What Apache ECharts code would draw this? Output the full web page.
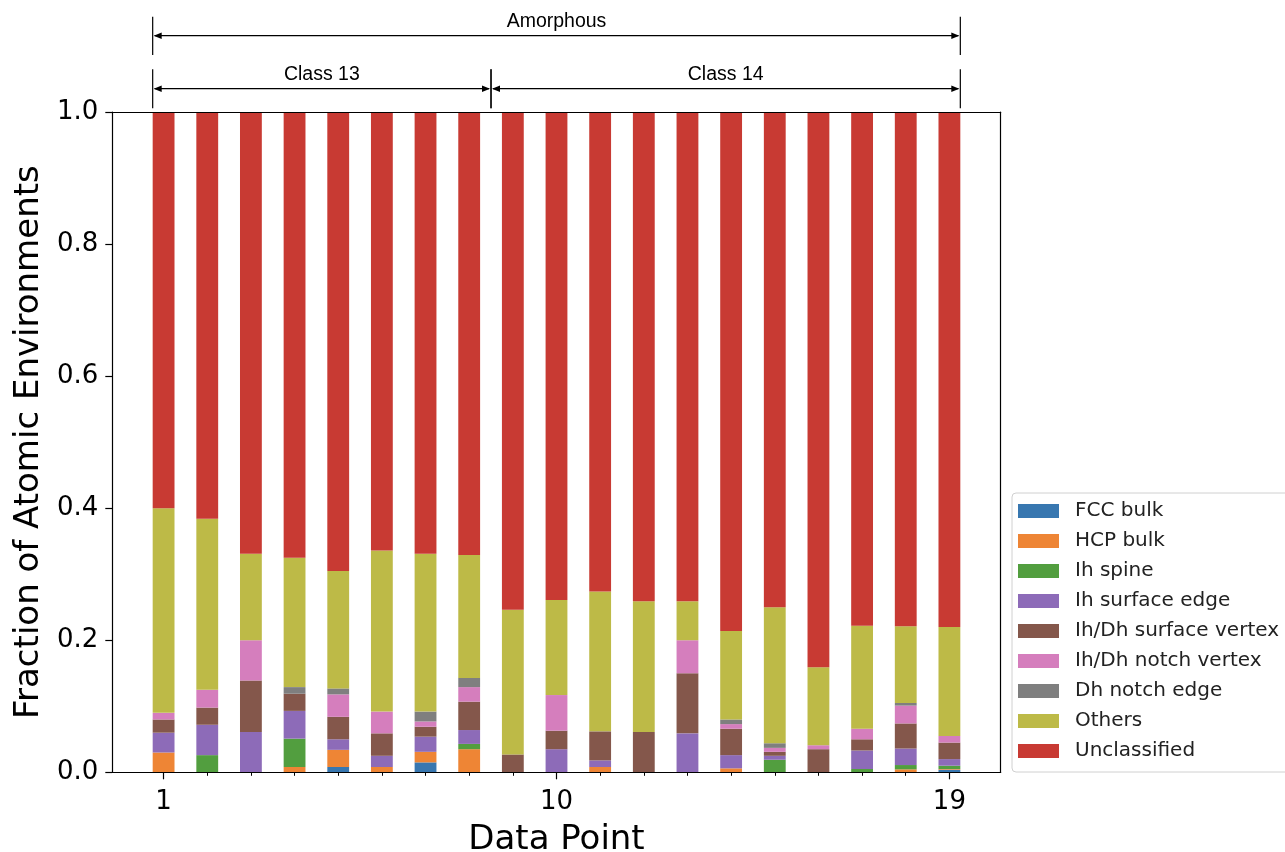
<!DOCTYPE html>
<html>
<head>
<meta charset="utf-8">
<script src="https://cdn.jsdelivr.net/npm/echarts@6/dist/echarts.min.js"></script>
<style>
html,body{margin:0;padding:0;background:#fff;}
#chart{width:1285px;height:852px;}
</style>
</head>
<body>
<div id="chart"></div>
<script>
// ---------- data ----------
const dataPoints = [1,2,3,4,5,6,7,8,9,10,11,12,13,14,15,16,17,18,19];
const xTickLabels = [1, 10, 19];
const seriesNames = ['FCC bulk','HCP bulk','Ih spine','Ih surface edge','Ih/Dh surface vertex','Ih/Dh notch vertex','Dh notch edge','Others','Unclassified'];
const fccBulk      = [0,0,0,0,0.008,0,0.015,0,0,0,0,0,0,0,0,0,0,0,0.004];
const hcpBulk      = [0.030,0,0,0.008,0.026,0.008,0.016,0.035,0,0,0.008,0,0,0.006,0,0,0,0.0045,0.001];
const ihSpine      = [0,0.026,0,0.043,0,0,0,0.008,0,0,0,0,0,0,0.019,0,0.005,0.0065,0.005];
const ihSurfEdge   = [0.030,0.046,0.061,0.042,0.016,0.017,0.023,0.021,0,0.035,0.010,0,0.059,0.020,0.006,0,0.028,0.025,0.010];
const surfVertex   = [0.020,0.026,0.078,0.026,0.034,0.034,0.015,0.043,0.027,0.028,0.044,0.061,0.091,0.040,0.006,0.035,0.017,0.038,0.025];
const notchVertex  = [0.010,0.027,0.061,0,0.034,0.033,0.008,0.022,0,0.054,0,0,0.050,0.007,0.006,0.006,0.016,0.027,0.010];
const notchEdge    = [0,0,0,0.010,0.009,0,0.015,0.014,0,0,0,0,0,0.007,0.007,0,0,0.004,0];
const others       = [0.310,0.259,0.131,0.196,0.178,0.244,0.239,0.186,0.219,0.144,0.212,0.198,0.059,0.134,0.206,0.118,0.156,0.116,0.165];
const unclassified = [0.600,0.616,0.669,0.675,0.695,0.664,0.669,0.671,0.754,0.739,0.726,0.741,0.741,0.786,0.750,0.841,0.778,0.779,0.780];
const allValues = [fccBulk,hcpBulk,ihSpine,ihSurfEdge,surfVertex,notchVertex,notchEdge,others,unclassified];
const colors = ['#3877b0','#ee8535','#529e3f','#8d6bb8','#84574b','#d57ebd','#7f7f7f','#bdba47','#c83a33'];

// ---------- layout ----------
const X_MIN = -0.175, X_MAX = 20.175, BAR_W = 0.5;
const G_LEFT = 112.3, G_RIGHT = 1000.7, G_TOP = 112, G_BOTTOM = 772.3;
const W = 1285, H = 852;
const barPx = BAR_W * (G_RIGHT - G_LEFT) / (X_MAX - X_MIN);
const FONT = 'DejaVu Sans';

const chart = echarts.init(document.getElementById('chart'), null, {renderer:'canvas'});

// data column 0 = fraction (y), column 1 = data point (x) so the stack runs along y
const series = seriesNames.map((name, i) => ({
  name: name,
  type: 'bar',
  stack: 'total',
  xAxisIndex: 0,
  yAxisIndex: 0,
  barWidth: barPx,
  encode: {x: 1, y: 0},
  itemStyle: {color: colors[i]},
  emphasis: {disabled: true},
  data: dataPoints.map((x, j) => [allValues[i][j], x])
}));

const option = {
  animation: false,
  backgroundColor: '#fff',
  grid: {left: G_LEFT, right: W - G_RIGHT, top: G_TOP, bottom: H - G_BOTTOM, containLabel: false, outerBoundsMode: 'none'},
  xAxis: [
    {
      type: 'value', min: X_MIN, max: X_MAX, position: 'bottom', z: 10,
      name: 'Data Point', nameLocation: 'middle', nameGap: 51,
      nameTextStyle: {fontFamily: FONT, fontSize: 34, color: '#000'},
      axisLine: {show: true, onZero: false, lineStyle: {color: '#000', width: 1.2}},
      axisTick: {show: true, length: 7, customValues: xTickLabels, lineStyle: {color: '#000', width: 1.2}},
      axisLabel: {show: true, customValues: xTickLabels, fontFamily: FONT, fontSize: 26, color: '#000', margin: 17},
      splitLine: {show: false}
    },
    {
      type: 'value', min: X_MIN, max: X_MAX, position: 'bottom', z: 10,
      axisLine: {show: false, onZero: false},
      axisTick: {show: true, length: 3.5, customValues: dataPoints, lineStyle: {color: '#000', width: 1}},
      axisLabel: {show: false},
      splitLine: {show: false}
    },
    {
      type: 'value', min: X_MIN, max: X_MAX, position: 'top', z: 10,
      axisLine: {show: true, onZero: false, lineStyle: {color: '#000', width: 1.2}},
      axisTick: {show: false}, axisLabel: {show: false}, splitLine: {show: false}
    }
  ],
  yAxis: [
    {
      type: 'value', min: 0, max: 1, interval: 0.2, position: 'left', z: 10,
      name: 'Fraction of Atomic Environments', nameLocation: 'middle', nameGap: 66,
      nameTextStyle: {fontFamily: FONT, fontSize: 34, color: '#000'},
      axisLine: {show: true, onZero: false, lineStyle: {color: '#000', width: 1.2}},
      axisTick: {show: true, length: 7, lineStyle: {color: '#000', width: 1.2}},
      axisLabel: {fontFamily: FONT, fontSize: 26, color: '#000', margin: 14, formatter: v => v.toFixed(1)},
      splitLine: {show: false}
    },
    {
      type: 'value', min: 0, max: 1, position: 'right', z: 10,
      axisLine: {show: true, onZero: false, lineStyle: {color: '#000', width: 1.2}},
      axisTick: {show: false}, axisLabel: {show: false}, splitLine: {show: false}
    }
  ],
  legend: {
    orient: 'vertical',
    left: 1012, top: 493,
    padding: [8, 40, 11, 6],
    itemWidth: 41, itemHeight: 14, itemGap: 10,
    borderColor: '#d0d0d0', borderWidth: 1, borderRadius: 4,
    backgroundColor: '#fff',
    icon: 'rect',
    textStyle: {fontFamily: FONT, fontSize: 20, color: '#222', lineHeight: 20, padding: [0,0,0,11]},
    data: seriesNames
  },
  series: series
};
chart.setOption(option);

// ---------- annotations (brackets above the plot) ----------
const brackets = [
  {from: 0.75, to: 19.25, y: 35.7, top: 16.7, bottom: 55, label: 'Amorphous', ty: 22},
  {from: 0.75, to: 8.5, y: 88.7, top: 69.3, bottom: 108.3, label: 'Class 13', ty: 74.5},
  {from: 8.5, to: 19.25, y: 88.7, top: 69.3, bottom: 108.3, label: 'Class 14', ty: 74.5}
];
const px = v => chart.convertToPixel({xAxisIndex: 0}, v);
const gfx = [];
const AL = 8, AH = 3.2;
brackets.forEach(b => {
  const x1 = px(b.from), x2 = px(b.to);
  gfx.push({type:'line', shape:{x1:x1, y1:b.top, x2:x1, y2:b.bottom}, style:{stroke:'#000', lineWidth:1.2}, z:20});
  gfx.push({type:'line', shape:{x1:x2, y1:b.top, x2:x2, y2:b.bottom}, style:{stroke:'#000', lineWidth:1.2}, z:20});
  gfx.push({type:'line', shape:{x1:x1+2, y1:b.y, x2:x2-2, y2:b.y}, style:{stroke:'#000', lineWidth:1.2}, z:20});
  gfx.push({type:'polygon', shape:{points:[[x1+1,b.y],[x1+1+AL,b.y-AH],[x1+1+AL,b.y+AH]]}, style:{fill:'#000'}, z:20});
  gfx.push({type:'polygon', shape:{points:[[x2-1,b.y],[x2-1-AL,b.y-AH],[x2-1-AL,b.y+AH]]}, style:{fill:'#000'}, z:20});
  gfx.push({type:'text', x:(x1+x2)/2, y:b.ty, style:{text:b.label, fontFamily:'Liberation Sans', fontSize:19.5, fill:'#000', align:'center', verticalAlign:'middle'}, z:20});
});
chart.setOption({graphic: gfx});
</script>
</body>
</html>
